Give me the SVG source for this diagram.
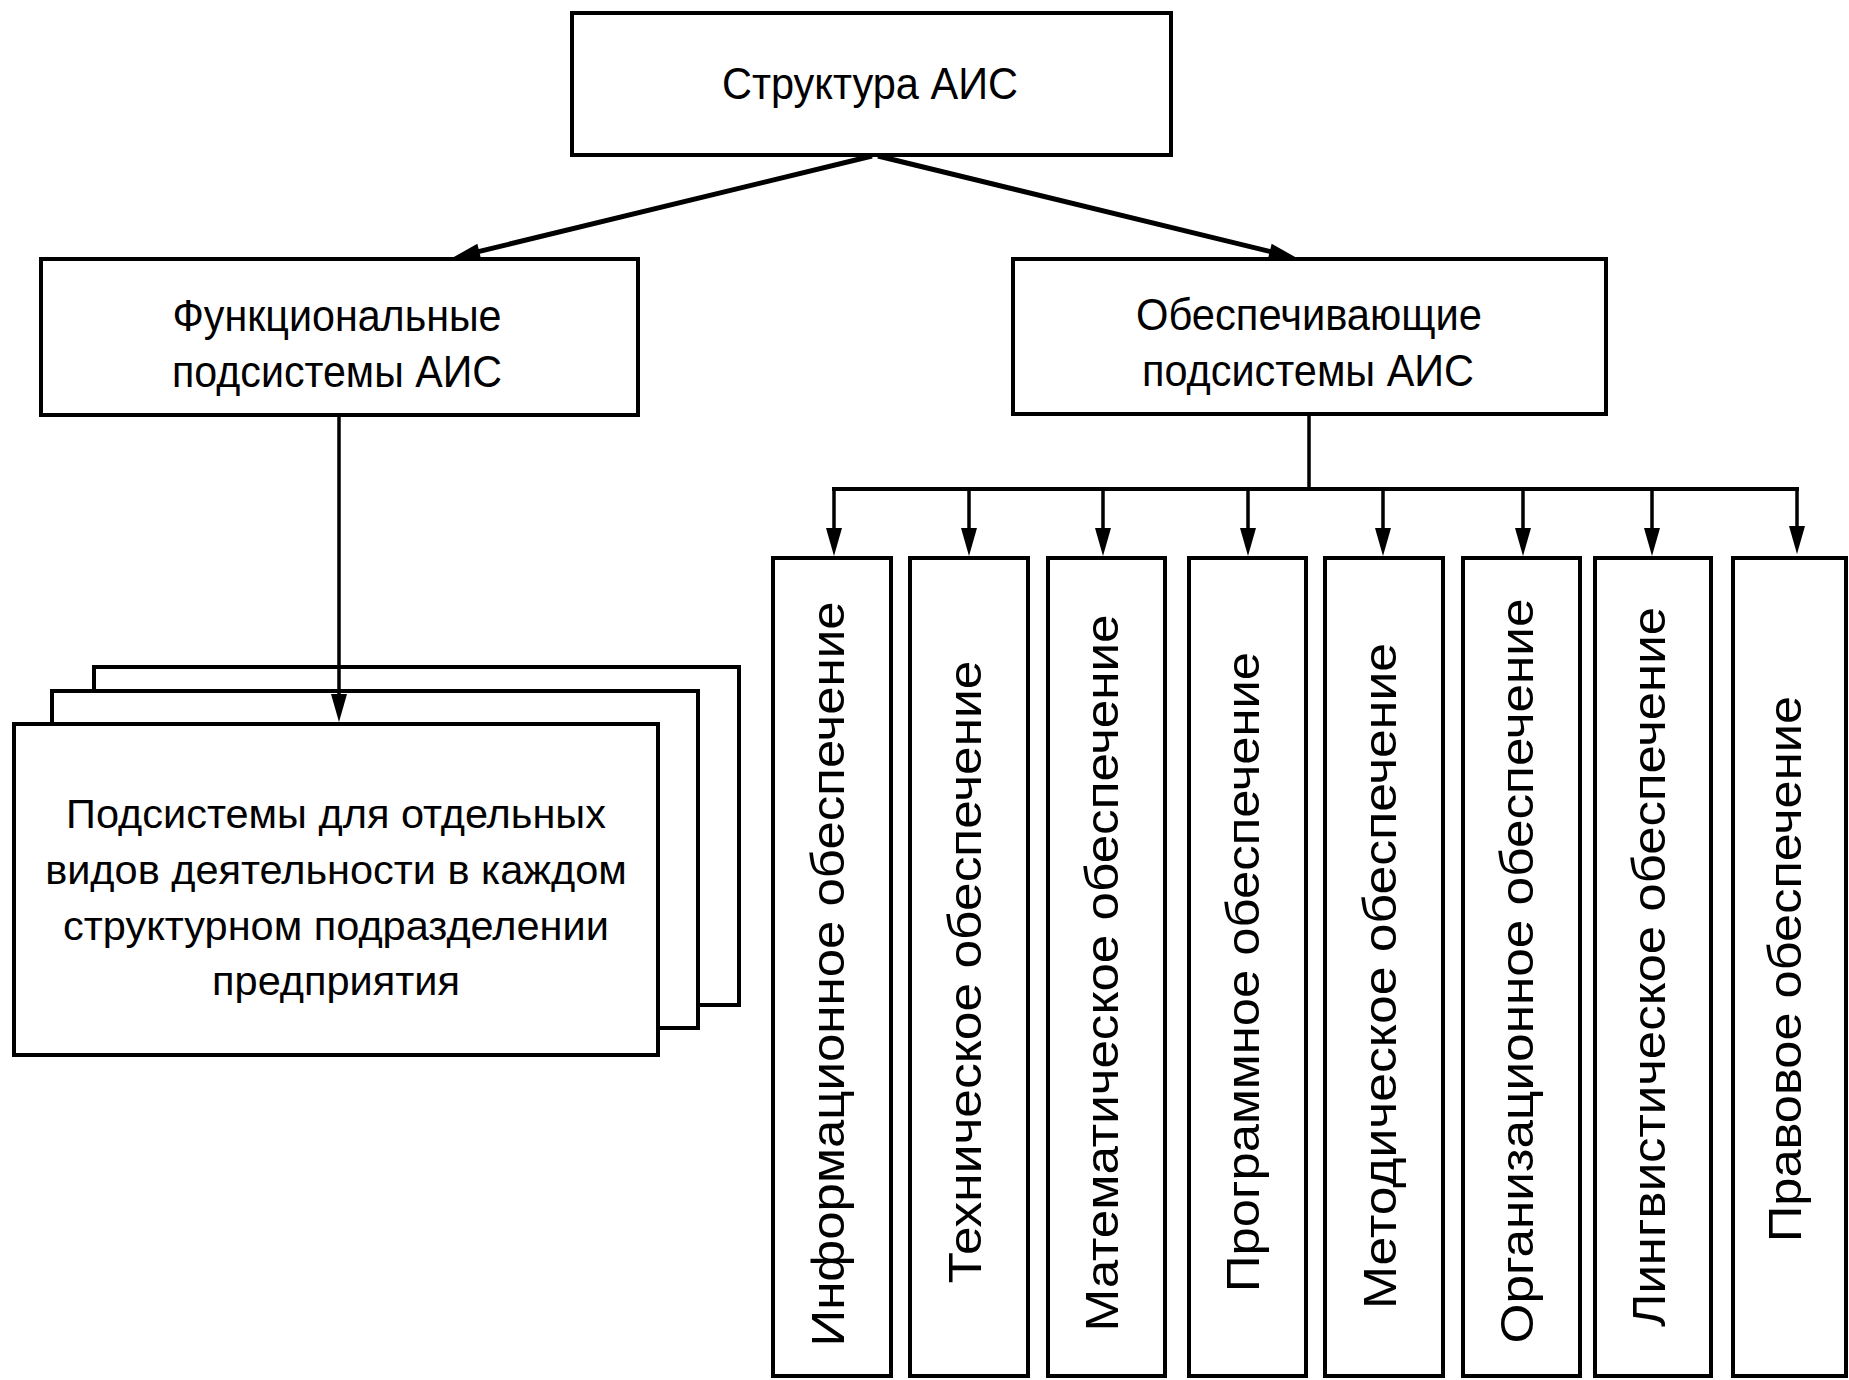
<svg xmlns="http://www.w3.org/2000/svg" width="1849" height="1380" viewBox="0 0 1849 1380">
<style>
.bg{fill:#fff}
.box{fill:#fff;stroke:#000;stroke-width:4}
.t{font-family:"Liberation Sans",Arial,sans-serif;fill:#000;text-anchor:middle}
.hdr{font-size:44px}
.stk{font-size:41.5px}
.col{font-size:46px}
.c{stroke:#000;fill:none}
.thick{stroke-width:5}
.thin{stroke-width:3.5}
</style>
<defs>
<marker id="ah" markerUnits="userSpaceOnUse" markerWidth="32" markerHeight="20" refX="2" refY="9" orient="auto" overflow="visible">
<path d="M0,1 L28,9 L0,17 z" fill="#000"/>
</marker>
</defs>
<rect class="bg" x="0" y="0" width="1849" height="1380"/>

<g id="node-root">
<rect class="box" x="572" y="13" width="599" height="142"/>
<text class="t hdr" x="870" y="99" textLength="296" lengthAdjust="spacingAndGlyphs">Структура АИС</text>
</g>

<g id="node-functional">
<rect class="box" x="41" y="259" width="597" height="156"/>
<text class="t hdr" x="337" y="331" textLength="329" lengthAdjust="spacingAndGlyphs">Функциональные</text>
<text class="t hdr" x="337" y="387" textLength="330" lengthAdjust="spacingAndGlyphs">подсистемы АИС</text>
</g>

<g id="node-supporting">
<rect class="box" x="1013" y="259" width="593" height="155"/>
<text class="t hdr" x="1309" y="330" textLength="346" lengthAdjust="spacingAndGlyphs">Обеспечивающие</text>
<text class="t hdr" x="1308" y="386" textLength="332" lengthAdjust="spacingAndGlyphs">подсистемы АИС</text>
</g>

<g id="node-subsystems">
<rect class="box" x="94" y="667" width="645" height="338"/>
<rect class="box" x="52" y="691" width="646" height="337"/>
<rect class="box" x="14" y="724" width="644" height="331"/>
<text class="t stk" x="336" y="828">Подсистемы для отдельных</text>
<text class="t stk" x="336" y="884">видов деятельности в каждом</text>
<text class="t stk" x="336" y="940">структурном подразделении</text>
<text class="t stk" x="336" y="995">предприятия</text>
</g>

<g id="node-info">
<rect class="box" x="773" y="558" width="118" height="818"/>
<text class="t col" transform="translate(844,974) rotate(-90)" textLength="745" lengthAdjust="spacingAndGlyphs">Информационное обеспечение</text>
</g>
<g id="node-tech">
<rect class="box" x="910" y="558" width="118" height="818"/>
<text class="t col" transform="translate(981,972) rotate(-90)" textLength="623" lengthAdjust="spacingAndGlyphs">Техническое обеспечение</text>
</g>
<g id="node-math">
<rect class="box" x="1048" y="558" width="117" height="818"/>
<text class="t col" transform="translate(1118,973) rotate(-90)" textLength="717" lengthAdjust="spacingAndGlyphs">Математическое обеспечение</text>
</g>
<g id="node-soft">
<rect class="box" x="1189" y="558" width="117" height="818"/>
<text class="t col" transform="translate(1259,972) rotate(-90)" textLength="640" lengthAdjust="spacingAndGlyphs">Программное обеспечение</text>
</g>
<g id="node-method">
<rect class="box" x="1325" y="558" width="118" height="818"/>
<text class="t col" transform="translate(1396,976) rotate(-90)" textLength="666" lengthAdjust="spacingAndGlyphs">Методическое обеспечение</text>
</g>
<g id="node-org">
<rect class="box" x="1463" y="558" width="117" height="818"/>
<text class="t col" transform="translate(1533,971) rotate(-90)" textLength="745" lengthAdjust="spacingAndGlyphs">Организационное обеспечение</text>
</g>
<g id="node-ling">
<rect class="box" x="1595" y="558" width="116" height="818"/>
<text class="t col" transform="translate(1665,967) rotate(-90)" textLength="720" lengthAdjust="spacingAndGlyphs">Лингвистическое обеспечение</text>
</g>
<g id="node-legal">
<rect class="box" x="1733" y="558" width="113" height="818"/>
<text class="t col" transform="translate(1801,969) rotate(-90)" textLength="546" lengthAdjust="spacingAndGlyphs">Правовое обеспечение</text>
</g>

<g id="connectors">
<path class="c thick" d="M872,156 L477.3,251.9" marker-end="url(#ah)"/>
<path class="c thick" d="M878,156 L1271.7,251.9" marker-end="url(#ah)"/>
<path class="c thin" d="M339,415 L339,696" marker-end="url(#ah)"/>
<path class="c thin" d="M1309,414 L1309,489"/>
<path class="c" stroke-width="4" d="M832,489 L1799,489"/>
<path class="c thin" d="M834,489 L834,530" marker-end="url(#ah)"/>
<path class="c thin" d="M969,489 L969,530" marker-end="url(#ah)"/>
<path class="c thin" d="M1103,489 L1103,530" marker-end="url(#ah)"/>
<path class="c thin" d="M1248,489 L1248,530" marker-end="url(#ah)"/>
<path class="c thin" d="M1383,489 L1383,530" marker-end="url(#ah)"/>
<path class="c thin" d="M1523,489 L1523,530" marker-end="url(#ah)"/>
<path class="c thin" d="M1652,489 L1652,530" marker-end="url(#ah)"/>
<path class="c thin" d="M1797,489 L1797,528" marker-end="url(#ah)"/>
</g>
</svg>
